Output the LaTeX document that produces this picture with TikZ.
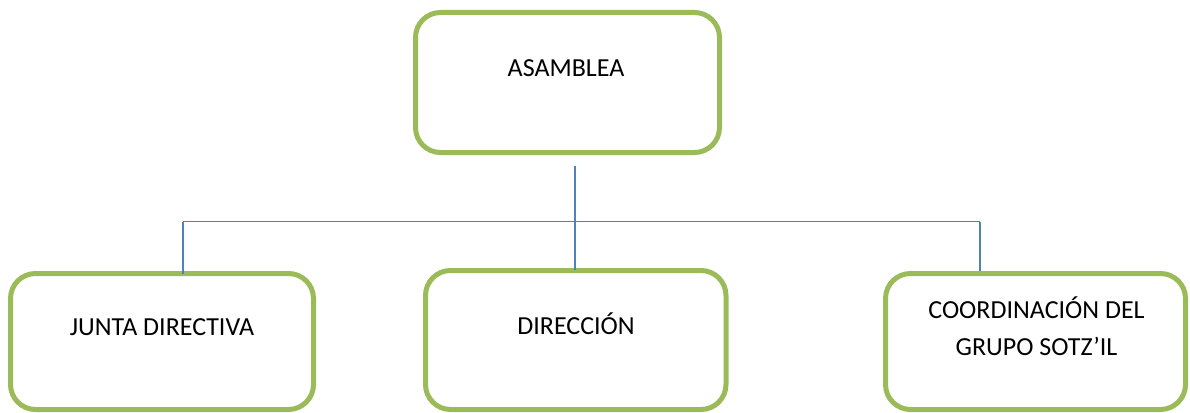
\documentclass[tikz,border=0pt]{standalone}
\usepackage{fontspec}
\setmainfont{Carlito}
\definecolor{boxgreen}{HTML}{9BBB59}
\definecolor{lineblue}{HTML}{4F81BD}
\begin{document}
\begin{tikzpicture}[x=1pt, y=-1pt,
    box/.style={rectangle, draw=boxgreen, line width=5pt, rounded corners=25pt, fill=white, inner sep=0pt},
    lbl/.style={font=\fontsize{26}{37}\selectfont, align=center, anchor=base},
    link/.style={draw=lineblue, line width=1.8pt}
]
\useasboundingbox (0,0) rectangle (1190,412);

\node[box, minimum width=304pt, minimum height=140pt] (asamblea) at (567.5,82.5) {};
\node[box, minimum width=303pt, minimum height=136pt] (junta) at (162,341.5) {};
\node[box, minimum width=300.5pt, minimum height=139pt] (direccion) at (575.75,340) {};
\node[box, minimum width=300pt, minimum height=136pt] (coord) at (1035.5,341.5) {};

\node[lbl] (asambleaT) at (566,76) {ASAMBLEA};
\node[lbl] (juntaT) at (162,335) {JUNTA DIRECTIVA};
\node[lbl] (direccionT) at (576,334) {DIRECCIÓN};
\node[lbl] (coordT) at (1036.5,355) {COORDINACIÓN DEL\\GRUPO SOTZ’IL};

\coordinate (mid) at (575,166);
\coordinate (jl) at (183,221.5);
\coordinate (cl) at (980,221.5);
\draw[link] (mid) -- ([yshift=-1.5pt]mid |- direccion.north);
\draw[link] (jl) -- (cl);
\draw[link] (jl) -- ([yshift=-2.5pt]jl |- junta.north);
\draw[link] (cl) -- (cl |- coord.north);
\end{tikzpicture}
\end{document}
